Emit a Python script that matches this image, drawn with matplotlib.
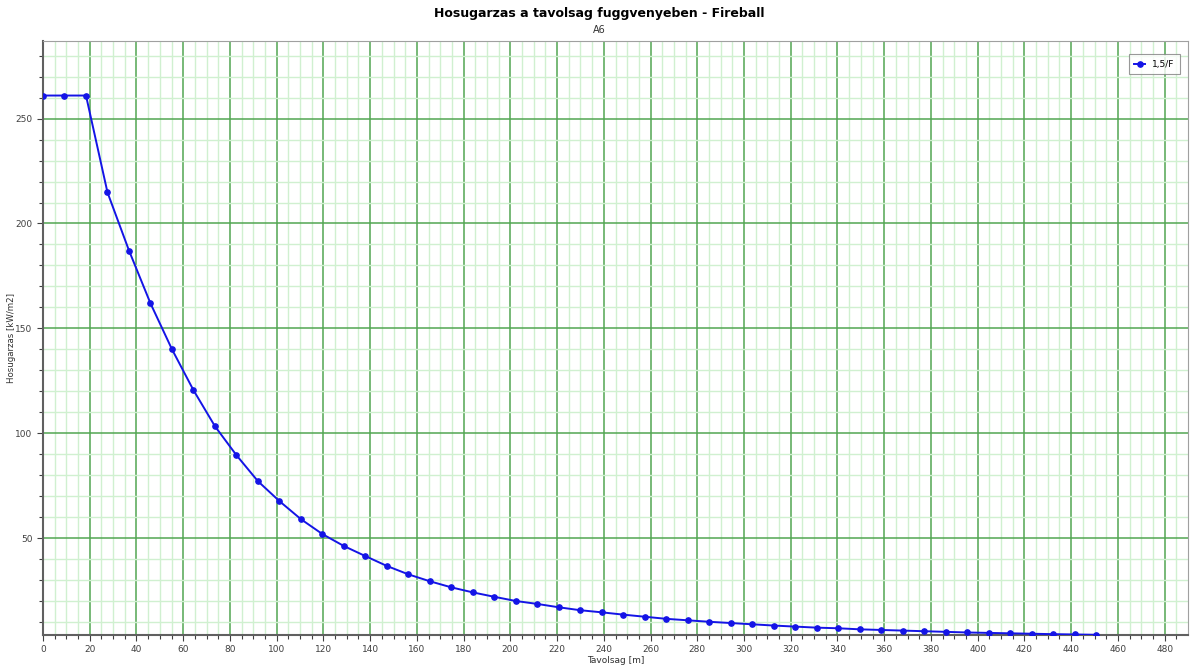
import numpy as np
import matplotlib.pyplot as plt
from matplotlib.ticker import MultipleLocator, FixedLocator

# Distance [m] and heat radiation [kW/m2]
distance = [0, 9.2, 18.4, 27.6, 36.8, 46.0, 55.2, 64.4, 73.6, 82.8,
            92.0, 101.2, 110.4, 119.6, 128.8, 138.0, 147.2, 156.4, 165.6, 174.8,
            184.0, 193.2, 202.4, 211.6, 220.8, 230.0, 239.2, 248.4, 257.6, 266.8,
            276.0, 285.2, 294.4, 303.6, 312.8, 322.0, 331.2, 340.4, 349.6, 358.8,
            368.0, 377.2, 386.4, 395.6, 404.8, 414.0, 423.2, 432.4, 441.6, 450.8]
radiation = [261.0, 261.0, 261.0, 214.8, 187.1, 161.9, 140.0, 120.5, 103.3, 89.5,
             77.1, 67.6, 59.0, 51.9, 46.2, 41.4, 36.7, 32.7, 29.4, 26.5,
             24.1, 22.0, 20.0, 18.6, 17.0, 15.6, 14.6, 13.5, 12.5, 11.5,
             10.8, 10.1, 9.5, 8.9, 8.3, 7.8, 7.3, 7.0, 6.5, 6.2,
             5.9, 5.6, 5.3, 5.0, 4.8, 4.6, 4.4, 4.2, 4.05, 3.9]
series_name = "1,5/F"

fig = plt.figure(figsize=(11.98, 6.68), dpi=100)
ax = fig.add_axes([43 / 1198, 1 - 635 / 668, (1188 - 43) / 1198, (635 - 41) / 668])

ax.plot(distance, radiation, color="#1414e6", lw=1.4, marker="o", ms=3.8,
        label=series_name, zorder=3)

ax.set_xlim(0, 490)
ax.set_ylim(3.8, 287)
ax.xaxis.set_major_locator(MultipleLocator(20))
ax.xaxis.set_minor_locator(FixedLocator([x for x in range(5, 490, 5) if x % 20]))
ax.set_yticks([50, 100, 150, 200, 250])
ax.yaxis.set_minor_locator(FixedLocator([y for y in range(10, 290, 10) if y % 50]))

for side in ["left", "bottom"]:
    ax.spines[side].set_color("#606060")
    ax.spines[side].set_linewidth(1.5)
for side in ["top", "right"]:
    ax.spines[side].set_color("#a0a0a0")
    ax.spines[side].set_linewidth(0.8)

ax.tick_params(which="both", labelsize=6.5, labelcolor="#404040", color="#404040",
               length=4, width=0.8)
ax.tick_params(which="minor", length=3)

# grid after tick styling so every gridline keeps the green colours
ax.grid(which="minor", color="#d0f0d0", lw=1.0, zorder=0)
ax.grid(which="major", color="#52a552", lw=1.1, zorder=1)
ax.set_axisbelow(True)

ax.set_xlabel("Tavolsag [m]", fontsize=6.5, color="#303030", labelpad=1)
fig.text(12 / 1198, 1 - 338 / 668, "Hosugarzas [kW/m2]", rotation=90,
         ha="center", va="center", fontsize=6.2, color="#303030")

fig.text(0.5, 1 - 14 / 668, "Hosugarzas a tavolsag fuggvenyeben - Fireball",
         ha="center", va="center", fontsize=9, fontweight="bold")
fig.text(0.5, 1 - 30 / 668, "A6", ha="center", va="center", fontsize=7, color="#303030")

leg = ax.legend(loc="upper right", fontsize=6.5, frameon=True, fancybox=False,
                handlelength=1.2, borderpad=0.6, bbox_to_anchor=(0.997, 0.985))
leg.get_frame().set_edgecolor("#808080")
leg.get_frame().set_linewidth(0.8)

fig.savefig("out.png", dpi=100)
